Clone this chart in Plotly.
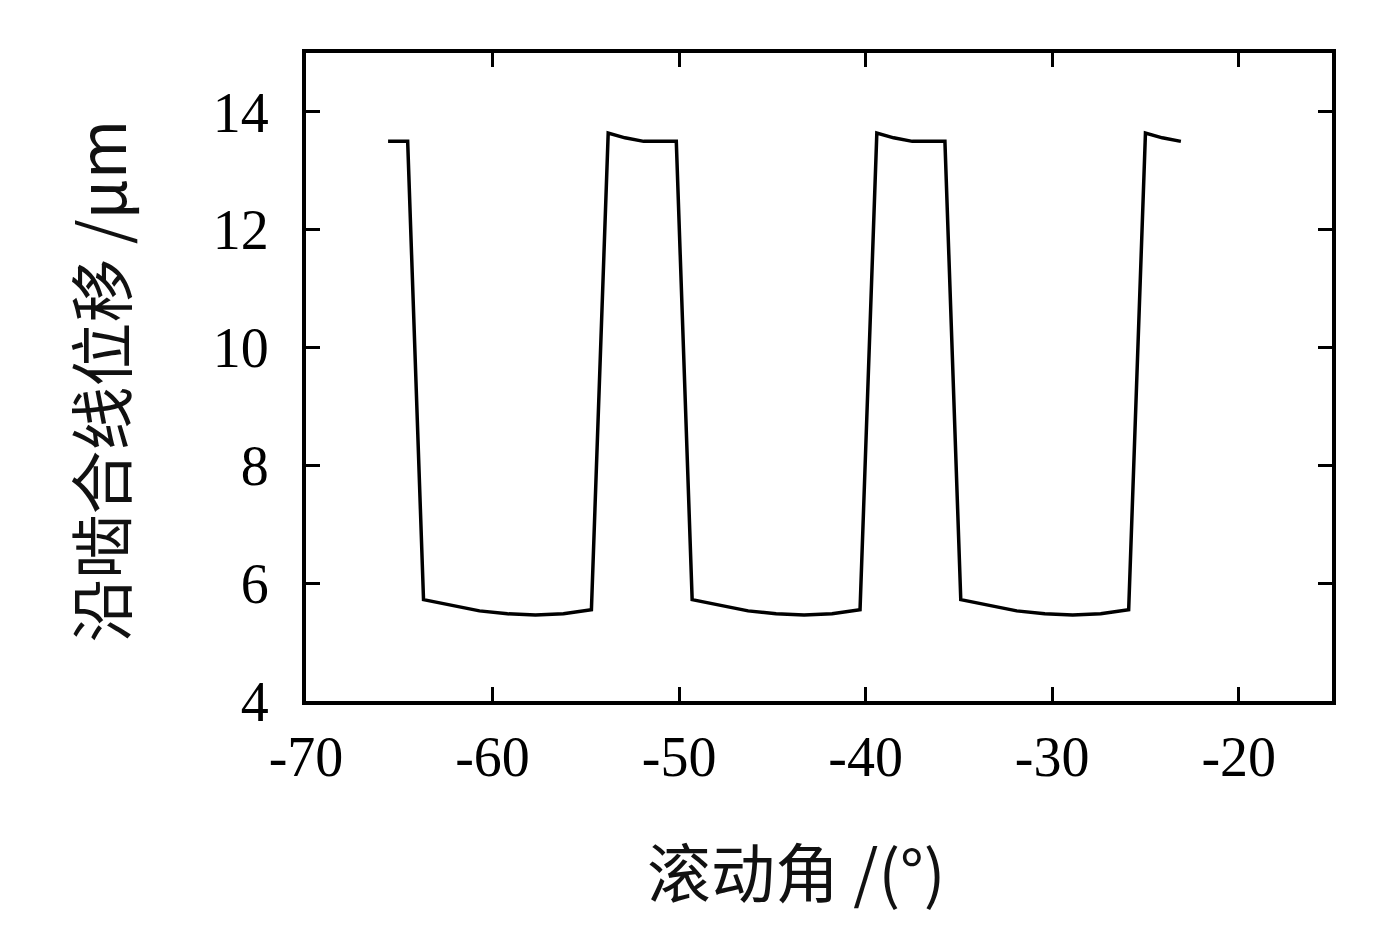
import plotly.graph_objects as go

roll_angle = [-65.6, -64.55, -63.7, -62.2, -60.7, -59.2, -57.7, -56.2, -54.7,
              -53.8, -52.9, -51.9, -50.15,
              -49.3, -47.8, -46.3, -44.8, -43.3, -41.8, -40.3,
              -39.4, -38.5, -37.5, -35.75,
              -34.9, -33.4, -31.9, -30.4, -28.9, -27.4, -25.9,
              -25.0, -24.1, -23.1]
displacement = [13.5, 13.5, 5.72, 5.62, 5.53, 5.48, 5.46, 5.48, 5.55,
                13.64, 13.56, 13.5, 13.5,
                5.72, 5.62, 5.53, 5.48, 5.46, 5.48, 5.55,
                13.64, 13.56, 13.5, 13.5,
                5.72, 5.62, 5.53, 5.48, 5.46, 5.48, 5.55,
                13.64, 13.56, 13.5]

x_ticks = [-70, -60, -50, -40, -30, -20]
y_ticks = [4, 6, 8, 10, 12, 14]
x_title = "滚动角 /(°)"
y_title = "沿啮合线位移 /μm"

fig = go.Figure()
fig.add_trace(go.Scatter(x=roll_angle, y=displacement, mode="lines",
                         line=dict(color="black", width=3.5), showlegend=False))

tickfont = dict(family="Liberation Serif", size=56, color="black")
titlefont = dict(family="Noto Sans CJK SC", size=64, color="#111")

fig.update_layout(
    width=1380, height=932,
    margin=dict(l=298, r=56, t=45, b=239),
    paper_bgcolor="white", plot_bgcolor="white",
    xaxis=dict(range=[-70, -15], tickvals=x_ticks, ticktext=[str(v) for v in x_ticks],
               ticks="inside", ticklen=14, tickwidth=3, tickcolor="black",
               showline=True, linewidth=4, linecolor="black", mirror="ticks",
               showgrid=False, zeroline=False, tickfont=tickfont,
               ticklabelstandoff=4),
    yaxis=dict(range=[4, 15], tickvals=y_ticks, ticktext=[str(v) for v in y_ticks],
               ticks="inside", ticklen=14, tickwidth=3, tickcolor="black",
               showline=True, linewidth=4, linecolor="black", mirror="ticks",
               showgrid=False, zeroline=False, tickfont=tickfont,
               ticklabelstandoff=22),
    annotations=[
        dict(text=x_title, xref="paper", yref="paper", x=0.478, y=-0.26,
             xanchor="center", yanchor="middle", showarrow=False, font=titlefont),
        dict(text=y_title, xref="paper", yref="paper", x=-0.203, y=0.494,
             xanchor="center", yanchor="middle", showarrow=False, font=titlefont,
             textangle=-90),
    ],
)

fig.write_html("out.html")
